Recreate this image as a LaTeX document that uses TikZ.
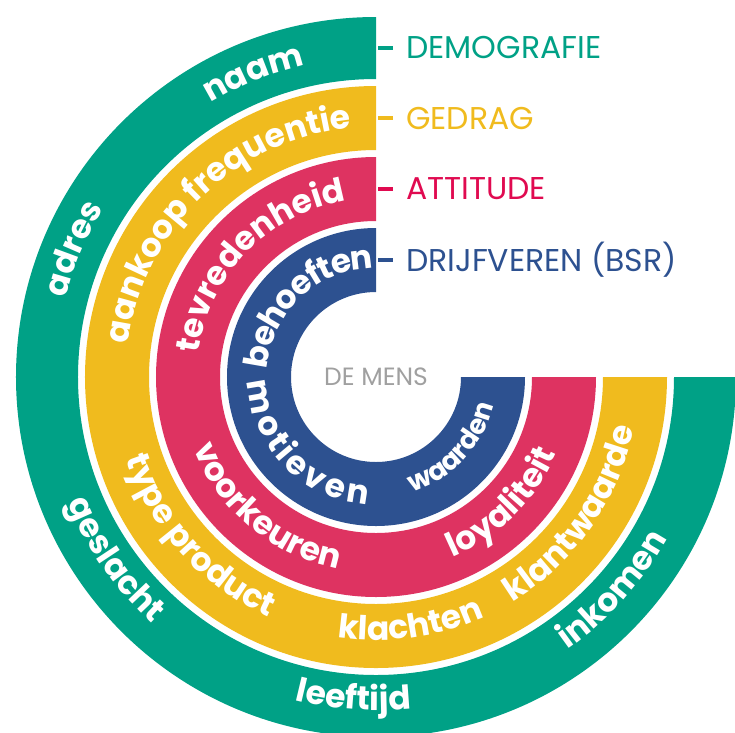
\documentclass[tikz,border=0pt]{standalone}
\usepackage{fontspec}
\setmainfont{Poppins}
\newfontfamily\ringfam{Poppins}
\usetikzlibrary{decorations.text}

\definecolor{demogreen}{RGB}{0,161,134}
\definecolor{gedragyellow}{RGB}{240,187,30}
\definecolor{attitudered}{RGB}{222,51,97}
\definecolor{attitudetext}{RGB}{224,10,80}
\definecolor{drijfblue}{RGB}{45,81,144}
\definecolor{mensgray}{RGB}{160,160,160}

\newcommand\ringfont{\ringfam\bfseries\fontsize{33}{33}\selectfont}
\newcommand\smallringfont{\ringfam\bfseries\fontsize{27}{27}\selectfont}

\tikzset{
  ringtext/.style={decorate, decoration={text along path, text align=center,
      text color=white, text={|\ringfont|#1}}},
  smallringtext/.style={decorate, decoration={text along path, text align=center,
      text color=white, text={|\smallringfont|#1}}},
  spreadtext/.style={decorate, decoration={text effects along path, text={#1},
      text effects/.cd, text along path, fit text to path,
      characters={text=white, font=\ringfont}}}
}

\begin{document}
\begin{tikzpicture}[x=1pt,y=1pt]
  \tikzstyle{legend}=[anchor=west, inner sep=0pt, font=\fontsize{31.5}{31.5}\selectfont]
  \tikzstyle{tick}=[line width=3.5pt, shorten >=13pt]

  \clip (-376,-355) rectangle (359,377);

  % the four rings, open in the upper right quarter
  \fill[demogreen]    (90:360pt) arc[start angle=90, end angle=360, radius=360pt]
                   -- (0:298pt) arc[start angle=360, end angle=90, radius=298pt] -- cycle;
  \fill[gedragyellow] (90:291pt) arc[start angle=90, end angle=360, radius=291pt]
                   -- (0:227pt) arc[start angle=360, end angle=90, radius=227pt] -- cycle;
  \fill[attitudered]  (90:220pt) arc[start angle=90, end angle=360, radius=220pt]
                   -- (0:156pt) arc[start angle=360, end angle=90, radius=156pt] -- cycle;
  \fill[drijfblue]    (90:149pt) arc[start angle=90, end angle=360, radius=149pt]
                   -- (0:85pt) arc[start angle=360, end angle=90, radius=85pt] -- cycle;

  % demografie
  \path[ringtext=naam]     (172:320pt) arc[start angle=172, end angle=52,  radius=320pt];
  \path[ringtext=adres]    (217:320pt) arc[start angle=217, end angle=97,  radius=320pt];
  \path[ringtext=geslacht] (155:333pt) arc[start angle=155, end angle=275, radius=333pt];
  \path[ringtext=leeftijd] (206:333pt) arc[start angle=206, end angle=326, radius=333pt];
  \path[ringtext=inkomen]  (258:333pt) arc[start angle=258, end angle=378, radius=333pt];

  % gedrag
  \path[ringtext=aankoop frequentie] (194:250pt) arc[start angle=194, end angle=74,  radius=250pt];
  \path[ringtext=type product]       (162:263pt) arc[start angle=162, end angle=282, radius=263pt];
  \path[ringtext=klachten]           (218:263pt) arc[start angle=218, end angle=338, radius=263pt];
  \path[ringtext=klantwaarde]        (265:263pt) arc[start angle=265, end angle=385, radius=263pt];

  % attitude
  \path[ringtext=tevredenheid] (196:179pt) arc[start angle=196, end angle=76,  radius=179pt];
  \path[ringtext=voorkeuren]   (170:196pt) arc[start angle=170, end angle=290, radius=196pt];
  \path[ringtext=loyaliteit]   (255:196pt) arc[start angle=255, end angle=375, radius=196pt];

  % drijfveren
  \path[spreadtext=behoeften]   (176:109pt) arc[start angle=176, end angle=91,  radius=109pt];
  \path[spreadtext=motieven]    (182:128pt) arc[start angle=182, end angle=266, radius=128pt];
  \path[smallringtext=waarden]  (227:121pt) arc[start angle=227, end angle=407, radius=121pt];

  % legend
  \node[legend, text=demogreen]    (demografie) at (30pt,329pt) {DEMOGRAFIE};
  \node[legend, text=gedragyellow] (gedrag)     at (30pt,259pt) {GEDRAG};
  \node[legend, text=attitudetext] (attitude)   at (30pt,188pt) {ATTITUDE};
  \node[legend, text=drijfblue]    (drijfveren) at (30pt,117pt) {DRIJFVEREN (BSR)};

  \coordinate (demografie-tick) at (2pt,329pt);
  \coordinate (gedrag-tick)     at (2pt,259pt);
  \coordinate (attitude-tick)   at (2pt,188pt);
  \coordinate (drijfveren-tick) at (2pt,117pt);

  \draw[tick, demogreen]    (demografie-tick) -- (demografie-tick -| demografie.west);
  \draw[tick, gedragyellow] (gedrag-tick)     -- (gedrag-tick -| gedrag.west);
  \draw[tick, attitudetext] (attitude-tick)   -- (attitude-tick -| attitude.west);
  \draw[tick, drijfblue]    (drijfveren-tick) -- (drijfveren-tick -| drijfveren.west);

  \node[text=mensgray, font=\fontsize{25}{25}\selectfont] (mens) at (0,0) {DE MENS};
\end{tikzpicture}
\end{document}
